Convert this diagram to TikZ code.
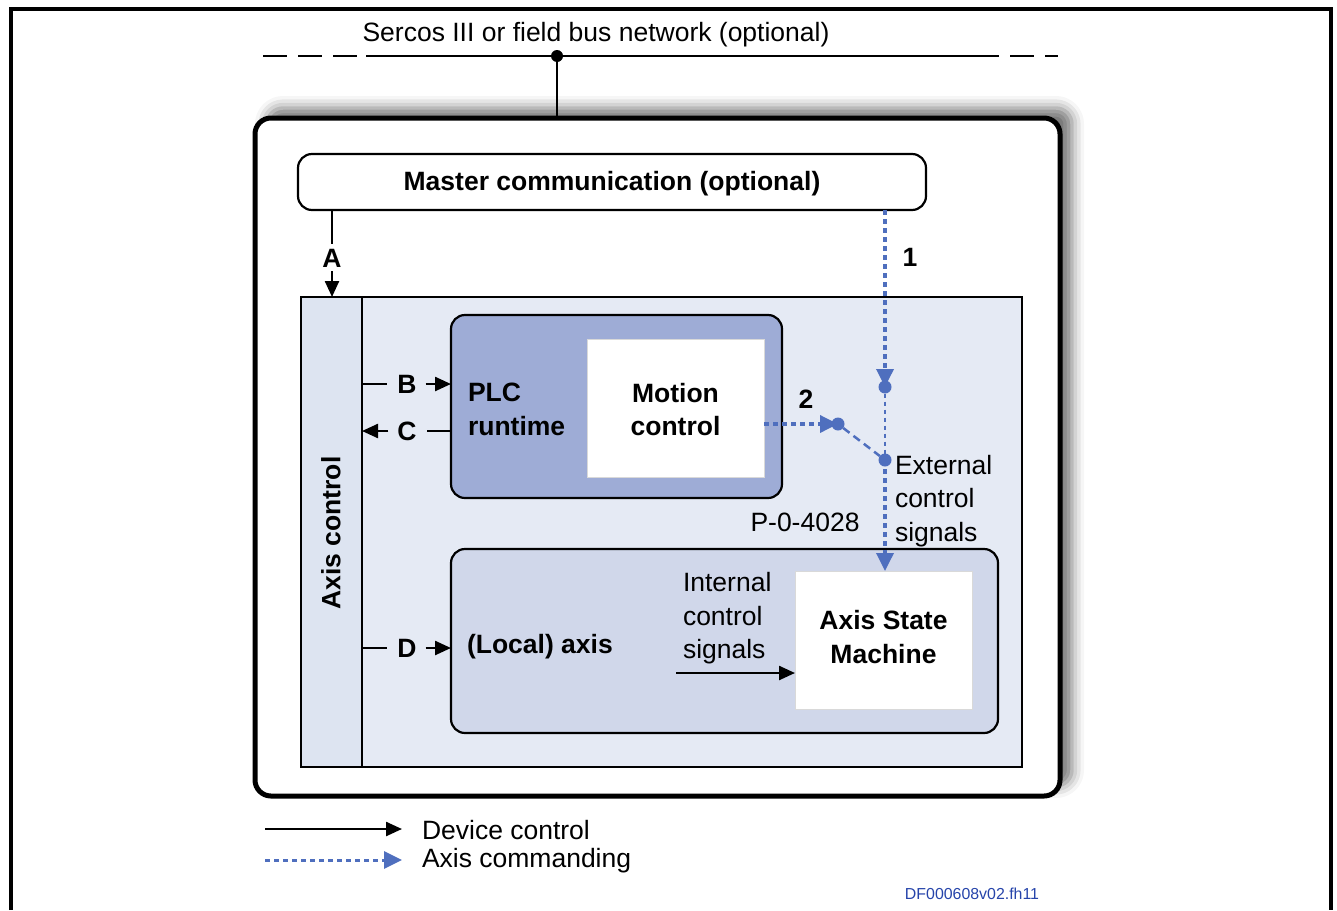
\documentclass[tikz,border=0pt]{standalone}
\usepackage{fontspec}
\setmainfont{Liberation Sans}
\usetikzlibrary{arrows.meta,shadows.blur}
\definecolor{cmdblue}{RGB}{79,111,190}
\definecolor{zonefill}{RGB}{229,234,244}
\definecolor{colfill}{RGB}{221,228,241}
\definecolor{plcfill}{RGB}{158,172,214}
\definecolor{axisfill}{RGB}{208,215,234}
\definecolor{tagblue}{RGB}{38,68,170}
\begin{document}
\begin{tikzpicture}[x=1pt,y=-1pt,
  every node/.style={inner sep=0pt, outer sep=0pt, font=\fontsize{26.5}{33.5}\selectfont},
  bold/.style={font=\fontsize{26.5}{33.5}\selectfont\bfseries},
  frame/.style={draw, line width=2pt},
  rbox/.style={draw, line width=2.2pt, rounded corners=14pt},
  whitebox/.style={fill=white, draw=white!85!black, line width=0.5pt},
  ctl/.style={line width=2.4pt, -{Triangle[length=16pt,width=14pt]}},
  ctlline/.style={line width=2.4pt},
  cmd/.style={cmdblue, line width=3.5pt, dash pattern=on 5pt off 4pt, -{Triangle[length=18pt,width=17pt]}},
  cmdthin/.style={cmdblue, line width=2.5pt, dash pattern=on 4pt off 4pt},
  cmddash/.style={cmdblue, line width=2.5pt, dash pattern=on 8pt off 5pt},
  dotn/.style={circle, fill=cmdblue, minimum size=13pt, inner sep=0pt},
  busdash/.style={line width=2.2pt, dash pattern=on 24pt off 11pt}]
\useasboundingbox (0,0) rectangle (1337,910);

% page frame, open at the bottom
\draw[line width=3.5pt] (11,910) -- (11,9) -- (1331,9) -- (1331,910);

% network bus
\node (bustext) at (596,35) {Sercos III or field bus network (optional)};
\coordinate (busL) at (263,56);
\coordinate (busA) at (366,56);
\coordinate (busB) at (975,56);
\coordinate (busR) at (1058,56);
\node[circle, fill=black, minimum size=12pt] (tap) at (557,56) {};
\draw[busdash] (busL) -- (busA);
\draw[line width=2.2pt] (busA) -- (busB);
\draw[busdash] (busB) -- (busR);

% drive device
\node[draw, line width=5pt, rounded corners=16pt, fill=white,
      minimum width=805, minimum height=678,
      blur shadow={shadow xshift=12pt, shadow yshift=10pt, shadow blur radius=12pt, shadow opacity=55}]
      (device) at (657.5,457) {};
\draw[line width=2.2pt] (tap.center) -- (tap |- device.north);

% master communication
\node[rbox, minimum width=628, minimum height=56] (master) at (612,182) {};
\node[bold] at ([yshift=-2pt]master.center) {Master communication (optional)};

% axis control zone
\node[frame, fill=zonefill, minimum width=721, minimum height=470] (zone) at (661.5,532) {};
\node[frame, fill=colfill, minimum width=61, minimum height=470] (axisctl) at (331.5,532) {};
\node[bold, rotate=90] at (331,533) {Axis control};

% PLC runtime with motion control
\node[rbox, fill=plcfill, minimum width=331, minimum height=183] (plc) at (616.5,406.5) {};
\node[bold, anchor=west, align=left] at (468,409.5) {PLC\\runtime};
\node[whitebox, minimum width=177, minimum height=138] (motion) at (675.5,408) {};
\node[bold, align=center] at ([yshift=-1.5pt]motion.center) {Motion\\control};

% local axis with state machine
\node[rbox, fill=axisfill, minimum width=547, minimum height=184] (axis) at (724.5,641) {};
\node[bold, anchor=west] at (467,647) {(Local) axis};
\node[whitebox, minimum width=177, minimum height=138] (asm) at (883.5,640) {};
\node[bold, align=center] at ([yshift=3pt]asm.center) {Axis State\\Machine};
\node[anchor=west, align=left] (internal) at (683,618.5) {Internal\\control\\signals};
\coordinate (intstart) at (676,673);
\draw[ctl] (intstart) -- (intstart -| asm.west);

% device control A-D
\coordinate (colA) at (332,0);
\node[bold] (A) at (332,258) {A};
\draw[ctlline] (colA |- master.south) -- ([yshift=5pt]A.north);
\draw[ctl] ([yshift=-4pt]A.south) -- (colA |- zone.north);

\node[bold] (B) at (407,384) {B};
\draw[ctlline] (B -| axisctl.east) -- ([xshift=-10pt]B.west);
\draw[ctl] ([xshift=9pt]B.east) -- (B -| plc.west);

\node[bold] (C) at (407,431) {C};
\draw[ctlline] (C -| plc.west) -- ([xshift=10pt]C.east);
\draw[ctl] ([xshift=-9pt]C.west) -- (C -| axisctl.east);

\node[bold] (D) at (407,648) {D};
\draw[ctlline] (D -| axisctl.east) -- ([xshift=-10pt]D.west);
\draw[ctl] ([xshift=9pt]D.east) -- (D -| axis.west);

% axis commanding paths
\coordinate (col1) at (885,0);
\node[bold] (one) at (910,257) {1};
\node[dotn] (sw1) at (885,387) {};
\node[dotn] (sw2) at (838,424) {};
\node[dotn] (sw3) at (885,460) {};
\node[bold] (two) at (806,399) {2};
\draw[cmd] (col1 |- master.south) -- (sw1.center);
\draw[cmdthin] (sw1) -- (sw3);
\draw[cmd] (sw2 -| motion.east) -- (sw2.center);
\draw[cmddash] (sw2) -- (sw3);
\draw[cmd] (sw3.center) -- (sw3 |- asm.north);
\node[anchor=west, align=left] (external) at (895,501) {External\\control\\signals};
\node (param) at (805,522) {P-0-4028};

% legend
\coordinate (lgA) at (265,829);
\coordinate (lgB) at (402,829);
\coordinate (lgC) at (265,860);
\coordinate (lgD) at (402,860);
\draw[ctl] (lgA) -- (lgB);
\draw[cmd, line width=3pt, dash pattern=on 5pt off 4pt] (lgC) -- (lgD);
\node[anchor=west] (lg1) at (422,830) {Device control};
\node[anchor=west] (lg2) at (422,861) {Axis commanding};

\node[text=tagblue, font=\fontsize{15.9}{19}\selectfont] (tag) at (972,894) {DF000608v02.fh11};
\end{tikzpicture}
\end{document}
